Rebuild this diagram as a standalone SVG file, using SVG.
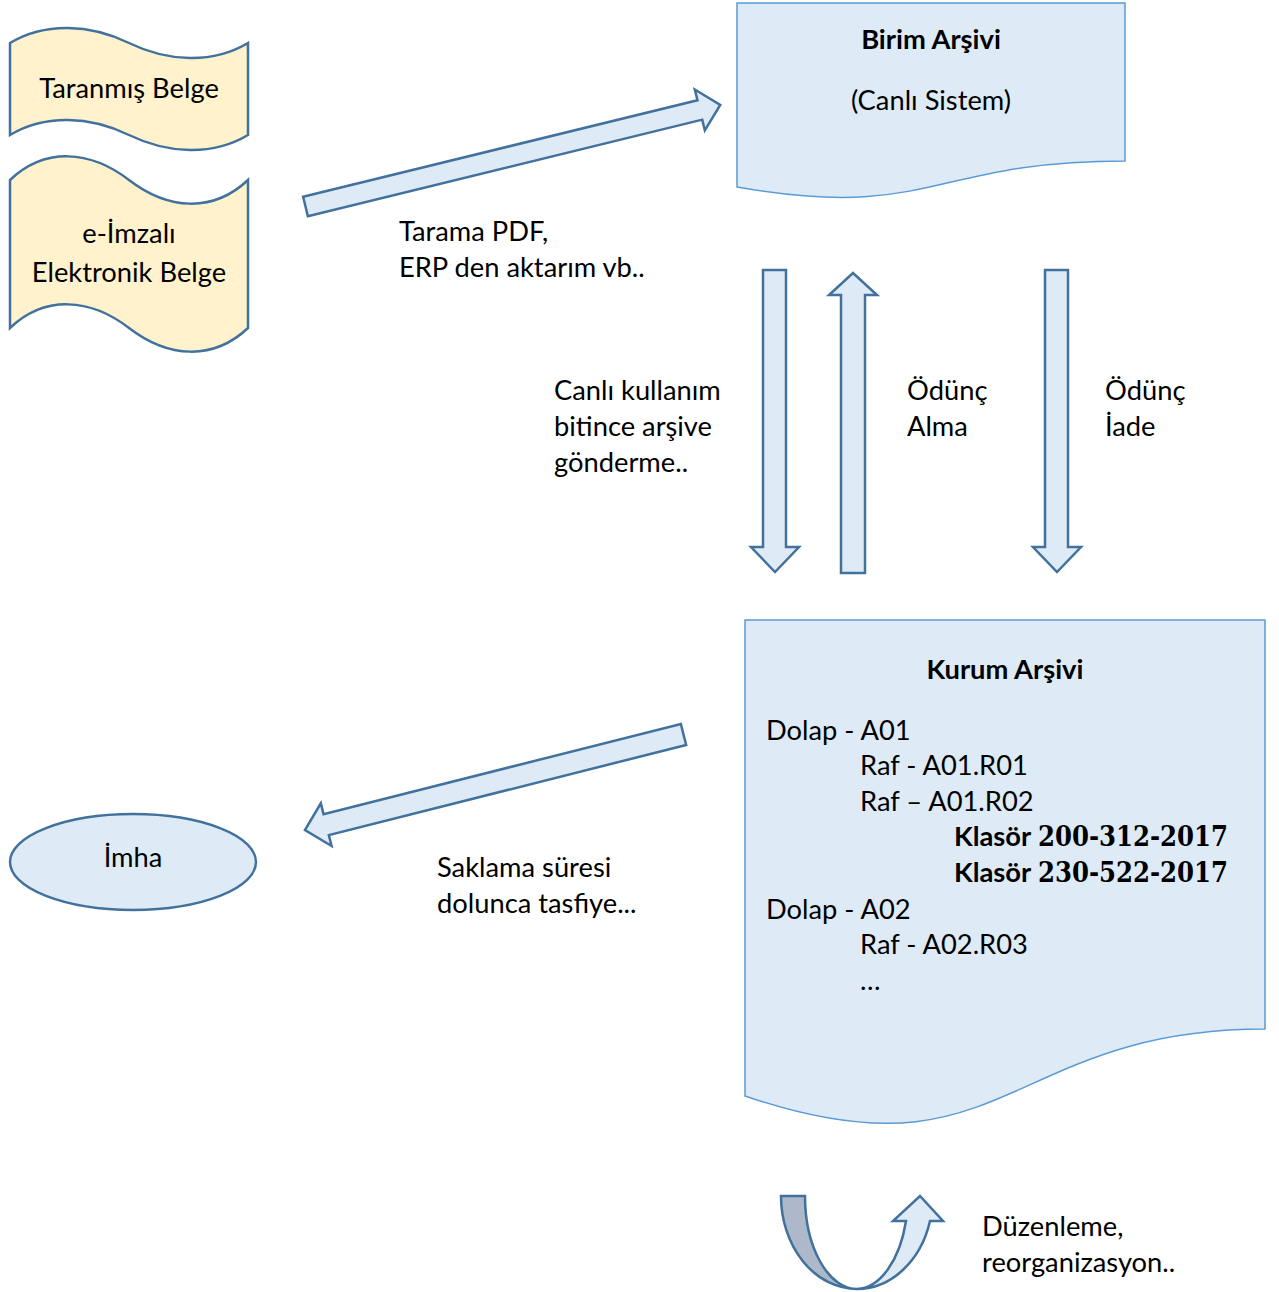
<svg xmlns="http://www.w3.org/2000/svg" width="1279" height="1292" viewBox="0 0 1279 1292">
<style>
.t{font-family:Lato,"Liberation Sans",sans-serif;font-size:27.3px;fill:#000}
.b{font-weight:bold}
.m{text-anchor:middle}
.tape{fill:#FFF2CC;stroke:#41719C;stroke-width:2.5}
.doc{fill:#DEEBF7;stroke:#5B9BD5;stroke-width:1.5}
.arr{fill:#DEEBF7;stroke:#41719C;stroke-width:2.5;stroke-linejoin:miter}
.num{font-family:"DejaVu Serif","Liberation Serif",serif;font-weight:bold;font-size:28px}
</style>
<rect width="1279" height="1292" fill="#fff"/>
<g id="taranmis">
<path class="tape" d="M10,43 C45,22 90,24 129,43 C168,62 213,64 248,43 V135 C213,156 168,154 129,135 C90,116 45,114 10,135 Z"/>
<text class="t m" x="129" y="98">Taranmış Belge</text>
</g>
<g id="eimzali">
<path class="tape" d="M10,180 C45,147 90,150 129,180 C168,210 213,213 248,180 V328 C213,361 168,358 129,328 C90,298 45,295 10,328 Z"/>
<text class="t m" x="129" y="243">e-İmzalı</text>
<text class="t m" x="129" y="282">Elektronik Belge</text>
</g>
<g id="birim">
<path class="doc" d="M737,3 H1125 V161 C931,161 931,221 737,187 Z"/>
<text class="t b m" x="931" y="49">Birim Arşivi</text>
<text class="t m" x="931" y="110">(Canlı Sistem)</text>
</g>
<g id="kurum">
<path class="doc" d="M745,620 H1265 V1029 C1005,1029 1005,1185 745,1096 Z"/>
<text class="t b m" x="1005" y="679">Kurum Arşivi</text>
<text class="t" x="766" y="740">Dolap - A01</text>
<text class="t" x="860" y="775">Raf - A01.R01</text>
<text class="t" x="860" y="811">Raf – A01.R02</text>
<text class="t b" x="954" y="846" font-size="29">Klasör</text>
<text class="num" x="1038" y="846" textLength="190" lengthAdjust="spacingAndGlyphs">200-312-2017</text>
<text class="t b" x="954" y="882" font-size="29">Klasör</text>
<text class="num" x="1038" y="882" textLength="190" lengthAdjust="spacingAndGlyphs">230-522-2017</text>
<text class="t" x="766" y="919">Dolap - A02</text>
<text class="t" x="860" y="954">Raf - A02.R03</text>
<text class="t" x="860" y="990">…</text>
</g>
<g id="imha">
<ellipse class="arr" cx="133" cy="862" rx="123" ry="48"/>
<text class="t m" x="133" y="867">İmha</text>
</g>
<g id="connectors">
<polygon class="arr" transform="translate(305.5,206.5) rotate(-13.76)" points="0,-10 406,-10 406,-21 427,0 406,21 406,10 0,10"/>
<polygon class="arr" points="763,270 786,270 786,547 799,547 775,572 751,547 763,547"/>
<polygon class="arr" points="841,573 865,573 865,295 877,295 853,273 829,295 841,295"/>
<polygon class="arr" points="1045,270 1068,270 1068,547 1081,547 1057,572 1033,547 1045,547"/>
<polygon class="arr" transform="translate(683.5,734.5) rotate(165.84)" points="0,-10.8 368.5,-10.8 368.5,-22 390.4,0 368.5,22 368.5,10.8 0,10.8"/>
<path d="M781,1196 H805 A52,93 0 0 0 857,1289 A76,93 0 0 1 781,1196 Z" fill="#ADB9CA" stroke="#41719C" stroke-width="2.5"/>
<path class="arr" d="M857,1289 A76,93 0 0 0 930,1221 H943 L920,1196 L893,1221 H906 A52,93 0 0 1 857,1289 Z"/>
</g>
<g id="labels">
<text class="t" x="399" y="241">Tarama PDF,</text>
<text class="t" x="399" y="277">ERP den aktarım vb..</text>
<text class="t" x="554" y="400">Canlı kullanım</text>
<text class="t" x="554" y="436">bitince arşive</text>
<text class="t" x="554" y="472">gönderme..</text>
<text class="t" x="907" y="400">Ödünç</text>
<text class="t" x="907" y="436">Alma</text>
<text class="t" x="1105" y="400">Ödünç</text>
<text class="t" x="1105" y="436">İade</text>
<text class="t" x="437" y="877">Saklama süresi</text>
<text class="t" x="437" y="913">dolunca tasfiye...</text>
<text class="t" x="982" y="1236">Düzenleme,</text>
<text class="t" x="982" y="1272">reorganizasyon..</text>
</g>
</svg>
